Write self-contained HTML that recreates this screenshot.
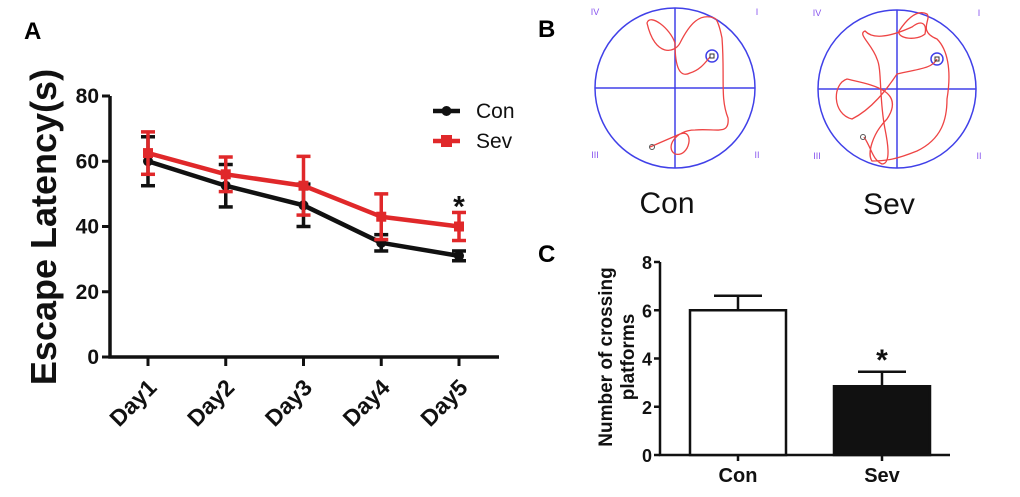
<!DOCTYPE html>
<html><head><meta charset="utf-8"><style>
body{margin:0;background:#fff;}
svg{display:block;font-family:"Liberation Sans",Arial,sans-serif;}
</style></head><body>
<svg id="fig" width="1020" height="497" viewBox="0 0 1020 497" xmlns="http://www.w3.org/2000/svg">
<rect width="1020" height="497" fill="#fff"/>
<text x="24" y="39" font-size="24" font-weight="bold">A</text>
<text x="538" y="37" font-size="24" font-weight="bold">B</text>
<text x="538" y="262" font-size="24" font-weight="bold">C</text>
<g id="pa"></g>
<g id="pb"></g>
<g id="pc"></g>
</svg>
<script>
const days=["Day1","Day2","Day3","Day4","Day5"];
const conMean=[60,52.5,46.5,35,31];
const conErr=[7.5,6.5,6.5,2.5,1.5];
const sevMean=[62.5,56,52.5,43,40];
const sevErr=[6.5,5.3,9,7,4.3];
const yTicksA=[0,20,40,60,80];
const groupsC=["Con","Sev"];
const crossMean=[6,2.85];
const crossErr=[0.6,0.6];
const yTicksC=[0,2,4,6,8];

const NS="http://www.w3.org/2000/svg";
function mk(p,t,a){const e=document.createElementNS(NS,t);for(const k in a)e.setAttribute(k,a[k]);p.appendChild(e);return e;}

// Panel A
const pa=document.getElementById('pa');
const ax0=110,ax1=499,ay0=357,ay1=96;
const yA=v=>ay0-(v/80)*(ay0-ay1);
const xA=i=>148+i*77.75;
let e;
e=mk(pa,'path',{d:`M${ax0} ${ay1} V${ay0} H${ax1}`,stroke:'#111',fill:'none','stroke-width':3.5});

yTicksA.forEach(v=>{
 mk(pa,'line',{x1:ax0-8,x2:ax0,y1:yA(v),y2:yA(v),stroke:'#111','stroke-width':3});
 e=mk(pa,'text',{x:ax0-11,y:yA(v)+7,'font-size':21,'font-weight':'bold','text-anchor':'end',fill:'#111'});e.textContent=v;
 
});
days.forEach((d,i)=>{
 mk(pa,'line',{x1:xA(i),x2:xA(i),y1:ay0,y2:ay0+9,stroke:'#111','stroke-width':3});
 e=mk(pa,'text',{transform:`translate(${xA(i)+10},${ay0+32}) rotate(-45)`,'font-size':23,'font-weight':'bold','text-anchor':'end',fill:'#111'});e.textContent=d;
 
});
e=mk(pa,'text',{transform:'translate(56,227) rotate(-90)','font-size':36,'font-weight':'bold','text-anchor':'middle',fill:'#111'});e.textContent='Escape Latency(s)';

function series(mean,err,col,name,sq){
 const g=mk(pa,'g',{});
 
 mk(g,'polyline',{points:mean.map((v,i)=>xA(i)+','+yA(v)).join(' '),stroke:col,fill:'none','stroke-width':4.5});
 mean.forEach((v,i)=>{
  const x=xA(i);
  mk(g,'line',{x1:x,x2:x,y1:yA(v+err[i]),y2:yA(v-err[i]),stroke:col,'stroke-width':3.5});
  mk(g,'line',{x1:x-7,x2:x+7,y1:yA(v+err[i]),y2:yA(v+err[i]),stroke:col,'stroke-width':3.5});
  mk(g,'line',{x1:x-7,x2:x+7,y1:yA(v-err[i]),y2:yA(v-err[i]),stroke:col,'stroke-width':3.5});
  if(sq)mk(g,'rect',{x:x-5,y:yA(v)-5,width:10,height:10,fill:col});else mk(g,'circle',{cx:x,cy:yA(v),r:5,fill:col});
 });
}
series(conMean,conErr,'#111','con',false);
series(sevMean,sevErr,'#e0282a','sev',true);
e=mk(pa,'text',{x:xA(4),y:yA(sevMean[4]+sevErr[4])+4,'font-size':30,'font-weight':'bold','text-anchor':'middle',fill:'#111'});e.textContent='*';

[['Con','#111',111,false],['Sev','#e0282a',141,true]].forEach(l=>{
 const g=mk(pa,'g',{});
 mk(g,'line',{x1:433,x2:460,y1:l[2],y2:l[2],stroke:l[1],'stroke-width':4.5});
 if(l[3])mk(g,'rect',{x:441,y:l[2]-6,width:11,height:12,fill:l[1]});else mk(g,'circle',{cx:446.5,cy:l[2],r:5,fill:l[1]});
 const t=mk(g,'text',{x:476,y:l[2]+7,'font-size':21,fill:'#111'});t.textContent=l[0];
});

// Panel B
const pb=document.getElementById('pb');
function pool(cx,cy,r,lab,path,px,py,sx,sy){
 const g=mk(pb,'g',{});
 mk(g,'circle',{cx,cy,r,fill:'none',stroke:'#4040e8','stroke-width':1.5});
 mk(g,'line',{x1:cx-r,x2:cx+r,y1:cy,y2:cy,stroke:'#4040e8','stroke-width':1.5});
 mk(g,'line',{x1:cx,x2:cx,y1:cy-r,y2:cy+r,stroke:'#4040e8','stroke-width':1.5});
 mk(g,'circle',{cx:px,cy:py,r:6,fill:'none',stroke:'#4040e8','stroke-width':1.5});
 mk(g,'path',{d:path,fill:'none',stroke:'#ee4444','stroke-width':1.3,transform:`translate(${cx},${cy})`});
 mk(g,'rect',{x:px-2,y:py-2,width:4,height:4,fill:'none',stroke:'#333','stroke-width':1});
 mk(g,'circle',{cx:sx,cy:sy,r:2.5,fill:'none',stroke:'#555','stroke-width':1});
 [['IV',cx-80,cy-73],['I',cx+82,cy-73],['III',cx-80,cy+70],['II',cx+82,cy+70]].forEach(q=>{
  const t=mk(g,'text',{x:q[1],y:q[2],'font-size':9,fill:'#8855ee','text-anchor':'middle'});t.textContent=q[0];
 });
 const t=mk(g,'text',{x:cx-8,y:cy+125,'font-size':30,fill:'#111','text-anchor':'middle'});t.textContent=lab;
 
}
pool(675,88,80,'Con','M-25,59 L5,46 C20,40 15,70 0,66 C-10,60 0,42 20,42 C40,40 55,48 53,30 C45,10 50,-10 47,-50 C45,-60 42,-70 39,-70 C25,-75 15,-65 5,-45 C0,-35 -20,-30 -28,-65 C-25,-75 -5,-60 0,-45 C0,-20 5,-10 15,-15 C25,-18 30,-25 35,-31',712,56,652,147);
pool(897,89,79,'Sev','M-33,48 C-25,60 -25,70 -15,75 C-5,75 -10,50 -12,40 C-18,10 -15,-20 -20,-30 C-25,-45 -40,-55 -32,-58 C-20,-45 10,-60 15,-62 C25,-70 30,-65 28,-55 C20,-48 0,-50 2,-58 C10,-70 20,-80 30,-75 C35,-70 20,-58 40,-50 C50,-40 55,-20 50,10 C50,30 45,50 20,62 C0,70 -10,72 -25,72 C-30,65 -25,45 -10,30 C10,0 -30,-5 -50,-10 C-65,-5 -65,25 -45,30 C-25,20 -10,0 0,-15 C20,-20 35,-20 40,-30',937,59,863,137);

// Panel C
const pc=document.getElementById('pc');
const cx0=660,cx1=950,cy0=455,cy1=262;
const yC=v=>cy0-(v/8)*(cy0-cy1);
const xC=i=>738+i*144;
e=mk(pc,'path',{d:`M${cx0} ${cy1} V${cy0} H${cx1}`,stroke:'#111',fill:'none','stroke-width':2.5});

yTicksC.forEach(v=>{
 mk(pc,'line',{x1:cx0-6,x2:cx0,y1:yC(v),y2:yC(v),stroke:'#111','stroke-width':2.5});
 e=mk(pc,'text',{x:cx0-8,y:yC(v)+7,'font-size':18,'font-weight':'bold','text-anchor':'end',fill:'#111'});e.textContent=v;
 
});
groupsC.forEach((gname,i)=>{
 const x=xC(i),v=crossMean[i];
 const b=mk(pc,'rect',{x:x-48,y:yC(v),width:96,height:cy0-yC(v),fill:i?'#111':'#fff',stroke:'#111','stroke-width':2.5});
 
 mk(pc,'line',{x1:x,x2:x,y1:yC(v),y2:yC(v+crossErr[i]),stroke:'#111','stroke-width':2.5});
 mk(pc,'line',{x1:x-24,x2:x+24,y1:yC(v+crossErr[i]),y2:yC(v+crossErr[i]),stroke:'#111','stroke-width':2.5});
 mk(pc,'line',{x1:x,x2:x,y1:cy0,y2:cy0+6,stroke:'#111','stroke-width':2.5});
 e=mk(pc,'text',{x:x,y:cy0+27,'font-size':20,'font-weight':'bold','text-anchor':'middle',fill:'#111'});e.textContent=gname;
 
});
e=mk(pc,'text',{x:xC(1),y:yC(crossMean[1]+crossErr[1])-2,'font-size':30,'font-weight':'bold','text-anchor':'middle',fill:'#111'});e.textContent='*';

e=mk(pc,'text',{transform:'translate(612,357) rotate(-90)','font-size':19,'font-weight':'bold','text-anchor':'middle',fill:'#111'});e.textContent='Number of crossing';

e=mk(pc,'text',{transform:'translate(634,357) rotate(-90)','font-size':19,'font-weight':'bold','text-anchor':'middle',fill:'#111'});e.textContent='platforms';

</script>
</body></html>
